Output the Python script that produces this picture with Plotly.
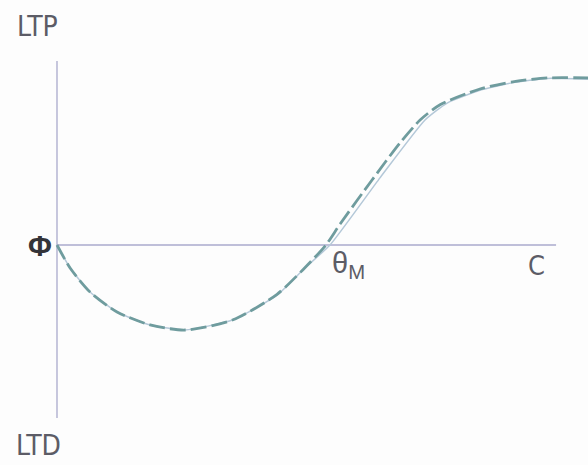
import plotly.graph_objects as go

# BCM-style plasticity curve: change in synaptic weight versus activity C.
# Abstract units: Phi at C = 0, threshold theta_M at C = 1, LTD minimum at -1.
c_solid = [0.0, 0.048, 0.121, 0.220, 0.341, 0.469, 0.645, 0.806, 0.908, 1.0,
           1.183, 1.348, 1.429, 1.549, 1.670, 1.795, 1.945]
dw_solid = [0.0, -0.27, -0.553, -0.788, -0.94, -1.00, -0.88, -0.59, -0.27, 0.0,
            0.79, 1.47, 1.67, 1.82, 1.91, 1.96, 1.95]

c_dashed = [0.0, 0.048, 0.121, 0.220, 0.341, 0.469, 0.645, 0.806, 0.901, 0.985,
            1.037, 1.154, 1.256, 1.330, 1.403, 1.549, 1.670, 1.795, 1.945]
dw_dashed = [0.0, -0.27, -0.553, -0.788, -0.94, -1.00, -0.88, -0.58, -0.29, 0.0,
             0.247, 0.765, 1.20, 1.47, 1.65, 1.835, 1.92, 1.965, 1.965]

# drawn axes
axis_c = [0.0, 1.828]
axis_dw = [-2.035, 2.165]

AXIS_COLOR = "#aaaacc"
TEXT_COLOR = "#5c5c66"
FONT = "DejaVu Sans Condensed, Liberation Sans Narrow, Liberation Sans, sans-serif"
SYMBOL_FONT = "Liberation Sans, Arial, sans-serif"

fig = go.Figure()
fig.add_trace(go.Scatter(x=axis_c, y=[0, 0], mode="lines",
                         line=dict(color=AXIS_COLOR, width=1.3), hoverinfo="skip"))
fig.add_trace(go.Scatter(x=[0, 0], y=axis_dw, mode="lines",
                         line=dict(color=AXIS_COLOR, width=1.3), hoverinfo="skip"))
fig.add_trace(go.Scatter(x=c_solid, y=dw_solid, mode="lines",
                         line=dict(color="#b4c8d8", width=1.5, shape="spline", smoothing=0.5)))
fig.add_trace(go.Scatter(x=c_dashed, y=dw_dashed, mode="lines",
                         line=dict(color="#6f9c9e", width=2.8, shape="spline", smoothing=0.7,
                                   dash="16px,5px")))

labels = [
    ("LTP", -0.073, 2.565, 28, TEXT_COLOR, FONT),
    ("LTD", -0.066, -2.353, 28, TEXT_COLOR, FONT),
    ("<b>Φ</b>", -0.062, -0.01, 29, "#333338", SYMBOL_FONT),
    ("C", 1.755, -0.247, 27, TEXT_COLOR, FONT),
]
for text, x, y, size, color, family in labels:
    fig.add_annotation(x=x, y=y, text=text, showarrow=False,
                       font=dict(family=family, size=size, color=color))
fig.add_annotation(x=1.0, y=-0.23, text="θ<sub>M</sub>", showarrow=False, xanchor="left",
                   font=dict(family=SYMBOL_FONT, size=29, color=TEXT_COLOR))

fig.update_layout(
    width=588, height=465, autosize=False,
    margin=dict(l=0, r=0, t=0, b=0),
    paper_bgcolor="#fdfdfd", plot_bgcolor="#fdfdfd",
    showlegend=False,
    xaxis=dict(range=[-0.2088, 1.945], visible=False, fixedrange=True),
    yaxis=dict(range=[-2.588, 2.882], visible=False, fixedrange=True),
)
fig.write_html("out.html")
